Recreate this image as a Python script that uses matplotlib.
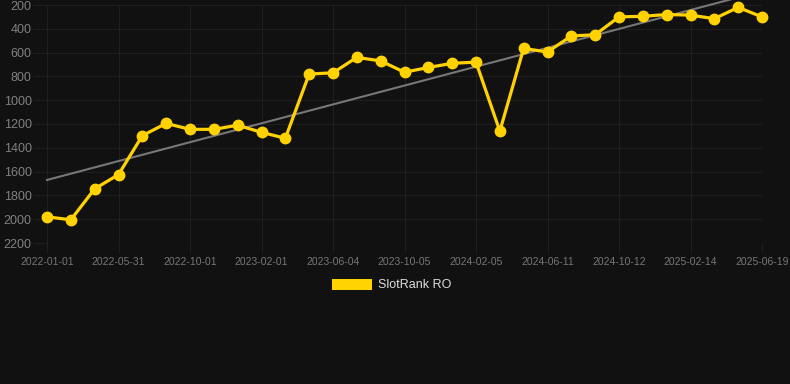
import numpy as np
import matplotlib
matplotlib.use("Agg")
import matplotlib.pyplot as plt
from matplotlib.patches import Rectangle

plt.rcParams['font.family'] = ['Liberation Sans', 'DejaVu Sans']

series_label = "SlotRank RO"
tick_labels = ["2022-01-01", "2022-05-31", "2022-10-01", "2023-02-01", "2023-06-04",
               "2023-10-05", "2024-02-05", "2024-06-11", "2024-10-12", "2025-02-14",
               "2025-06-19"]
ranks = [1980, 2005, 1745, 1625, 1298, 1195, 1245, 1245, 1210, 1270, 1320,
         780, 770, 640, 670, 765, 725, 690, 680, 1260, 565,
         595, 460, 450, 300, 295, 280, 285, 315, 220, 300]
y_ticks = [200, 400, 600, 800, 1000, 1200, 1400, 1600, 1800, 2000, 2200]

BG = "#111111"
GOLD = "#FFD200"
GRID = "#1f1f1f"
W, H = 790, 384

fig = plt.figure(figsize=(W / 100, H / 100), dpi=100, facecolor=BG)
ax = fig.add_axes([47 / W, 1 - 243 / H, (762 - 47) / W, (243 - 5) / H], facecolor=BG)

x = np.arange(len(ranks))
# trend line (linear fit)
coef = np.polyfit(x, ranks, 1)
xt = np.array([0, len(ranks) - 1])
ax.plot(xt, np.polyval(coef, xt), color="#777777", lw=1.5, zorder=2, clip_on=False)

ax.plot(x, ranks, color=GOLD, lw=2.3, marker="o", ms=7.5, zorder=3, clip_on=False)

ax.set_xlim(0, len(ranks) - 1)
ax.set_ylim(2200, 200)
ax.set_yticks(y_ticks)
ax.set_yticklabels([str(v) for v in y_ticks])
ax.set_xticks(x[::3])
ax.set_xticklabels(tick_labels)

for s in ax.spines.values():
    s.set_visible(False)
ax.grid(True, color=GRID, lw=0.8)
ax.set_axisbelow(True)
ax.tick_params(axis="y", colors=GRID, labelcolor="#808080", labelsize=9, length=10, pad=1)
ax.tick_params(axis="x", colors=GRID, labelcolor="#777777", labelsize=7.5, length=7, pad=3)

# legend
fig.patches.append(Rectangle((332 / W, 1 - 290 / H), 40 / W, 11 / H, transform=fig.transFigure,
                             facecolor=GOLD, edgecolor="none"))
fig.text(378 / W, 1 - 285 / H, series_label, color="#dddddd", fontsize=9, va="center", ha="left")

fig.savefig("out.png", dpi=100, facecolor=BG)
